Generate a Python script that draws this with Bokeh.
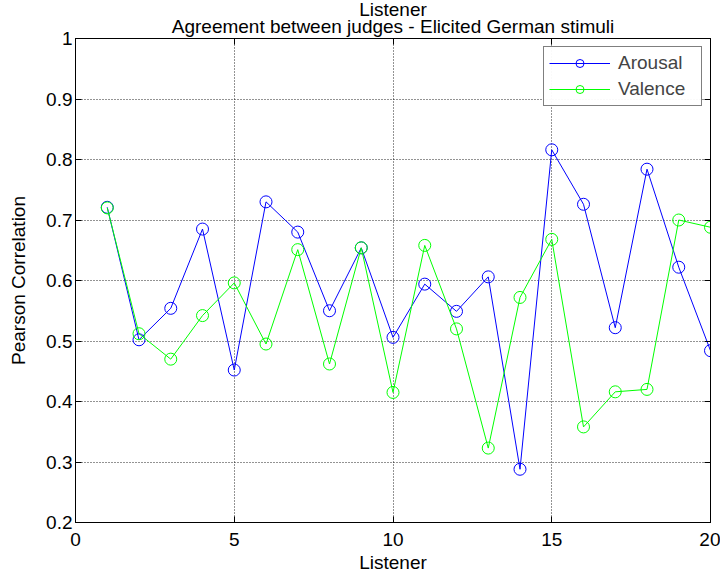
from bokeh.plotting import figure
from bokeh.models import LinearAxis, FixedTicker, Title, Legend, LegendItem, Range1d
from bokeh.embed import file_html
from bokeh.resources import INLINE

listener = list(range(1, 21))
arousal = [0.721, 0.502, 0.554, 0.685, 0.452, 0.730, 0.680, 0.550, 0.654, 0.506,
           0.594, 0.549, 0.606, 0.288, 0.816, 0.726, 0.522, 0.784, 0.622, 0.484]
valence = [0.720, 0.512, 0.470, 0.542, 0.596, 0.495, 0.651, 0.462, 0.654, 0.415,
           0.658, 0.520, 0.323, 0.572, 0.668, 0.358, 0.416, 0.420, 0.700, 0.688]
x_ticks = [0, 5, 10, 15, 20]
y_ticks = [0.2, 0.3, 0.4, 0.5, 0.6, 0.7, 0.8, 0.9, 1.0]
y_tick_labels = {0.2: "0.2", 0.3: "0.3", 0.4: "0.4", 0.5: "0.5", 0.6: "0.6",
                 0.7: "0.7", 0.8: "0.8", 0.9: "0.9", 1.0: "1"}
title_text = "Agreement between judges - Elicited German stimuli"
top_text = "Listener"
x_label = "Listener"
y_label = "Pearson Correlation"

FONT = "Liberation Sans"

p = figure(width=720, height=575, output_backend="svg", toolbar_location=None, title=None,
           x_range=Range1d(0, 20), y_range=Range1d(0.2, 1.0),
           min_border_left=75, min_border_right=10, min_border_top=38, min_border_bottom=50,
           background_fill_color="white", border_fill_color="white")

p.outline_line_color = "black"
p.outline_line_width = 1

def style_axis(ax):
    ax.axis_line_color = "black"
    ax.major_tick_line_color = "black"
    ax.major_tick_in = 6
    ax.major_tick_out = 0
    ax.minor_tick_line_color = None
    ax.major_label_text_font = FONT
    ax.major_label_text_font_size = "19px"
    ax.major_label_text_color = "black"
    ax.axis_label_text_font = FONT
    ax.axis_label_text_font_size = "19px"
    ax.axis_label_text_font_style = "normal"
    ax.axis_label_text_color = "black"

p.xaxis.ticker = FixedTicker(ticks=x_ticks)
p.yaxis.ticker = FixedTicker(ticks=y_ticks)
p.yaxis.major_label_overrides = y_tick_labels
p.xaxis.axis_label = x_label
p.yaxis.axis_label = y_label
style_axis(p.xaxis[0])
style_axis(p.yaxis[0])
p.xaxis.major_label_standoff = 10
p.yaxis.major_label_standoff = 3
p.xaxis.axis_label_standoff = 3
p.yaxis.axis_label_standoff = 14

top = LinearAxis(ticker=FixedTicker(ticks=x_ticks))
style_axis(top)
top.major_label_overrides = {t: "" for t in x_ticks}
top.major_label_standoff = 0
p.add_layout(top, "above")
right = LinearAxis(ticker=FixedTicker(ticks=y_ticks))
style_axis(right)
right.major_label_overrides = {t: "" for t in y_ticks}
right.major_label_standoff = 0
p.add_layout(right, "right")

main_title = Title(text=title_text, align="center", text_font=FONT, text_font_size="19px",
                   text_font_style="normal", text_color="black", standoff=3)
p.add_layout(main_title, "above")
top_title = Title(text=top_text, align="center", text_font=FONT, text_font_size="19px",
                  text_font_style="normal", text_color="black", standoff=-14)
p.add_layout(top_title, "above")

p.xgrid[0].ticker = FixedTicker(ticks=x_ticks)
p.ygrid[0].ticker = FixedTicker(ticks=y_ticks)
for g in (p.xgrid[0], p.ygrid[0]):
    g.grid_line_color = "black"
    g.grid_line_alpha = 0.85
    g.grid_line_dash = "1 2"
    g.grid_line_width = 1

la = p.line(listener, arousal, line_color="#0000ff", line_width=1)
sa = p.scatter(listener, arousal, marker="circle", size=12, fill_color=None,
               line_color="#0000ff", line_width=1)
lv = p.line(listener, valence, line_color="#00ff00", line_width=1)
sv = p.scatter(listener, valence, marker="circle", size=12, fill_color=None,
               line_color="#00ff00", line_width=1)

legend = Legend(items=[LegendItem(label="Arousal", renderers=[la, sa]),
                       LegendItem(label="Valence", renderers=[lv, sv])],
                location="top_right")
legend.border_line_color = "black"
legend.border_line_width = 1
legend.label_text_font = FONT
legend.label_text_font_size = "19px"
legend.glyph_width = 61
legend.glyph_height = 20
legend.label_height = 20
legend.label_width = 78
legend.spacing = 4
legend.padding = 5
legend.margin = 8
legend.label_standoff = 8
p.add_layout(legend)

open("out.html", "w").write(file_html(p, INLINE))
